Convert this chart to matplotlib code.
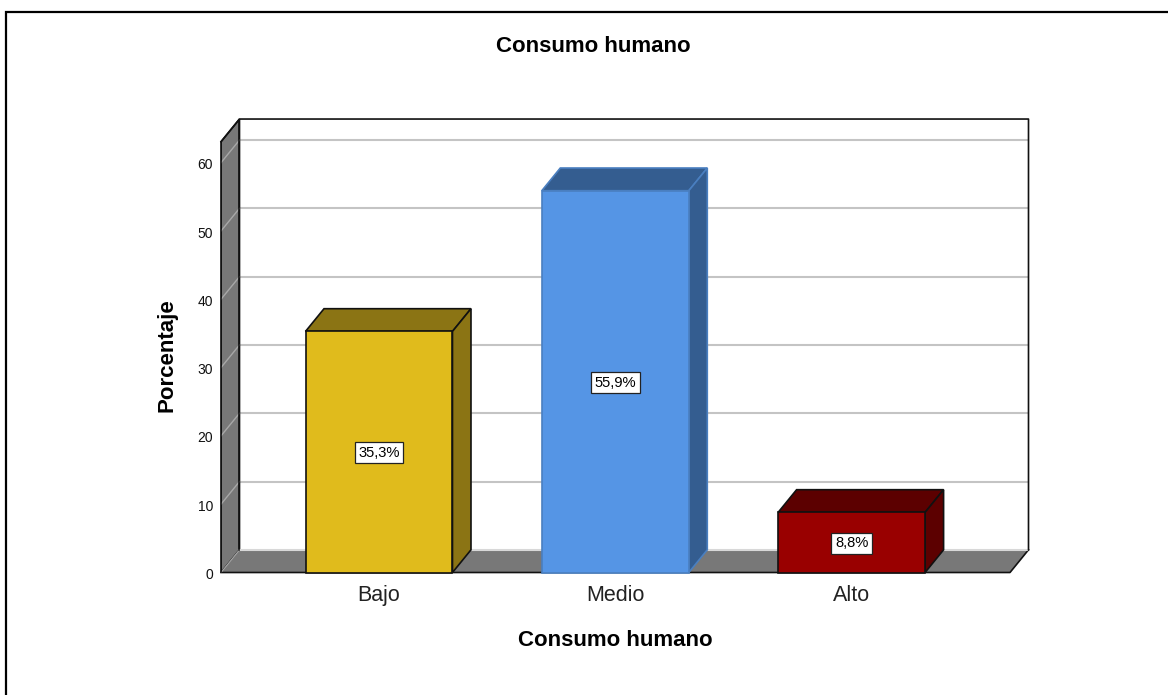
import matplotlib.pyplot as plt
from matplotlib.patches import Polygon, Rectangle
from matplotlib.lines import Line2D

plt.rcParams['font.family'] = ['Liberation Sans', 'DejaVu Sans']

categories = ['Bajo', 'Medio', 'Alto']
percentages = [35.3, 55.9, 8.8]
labels = ['35,3%', '55,9%', '8,8%']
front_colors = ['#e0bb1c', '#5595e5', '#990000']
side_colors = ['#8b7414', '#345d90', '#5c0000']
edge_colors = ['#111111', '#4a7fc0', '#111111']
y_ticks = [0, 10, 20, 30, 40, 50, 60]

W, H = 1168, 695
fig = plt.figure(figsize=(W / 100, H / 100), dpi=100)

# plot area in pixels: front floor corner to back top corner
left, right, bottom, top = 221, 1028, 572.5, 119
ax = fig.add_axes([left / W, 1 - bottom / H, (right - left) / W, (bottom - top) / H])

px_x = 236.3          # pixels per category
px_y = 6.83           # pixels per percent
ax.set_xlim((left - 379) / px_x, (right - 379) / px_x)
ax.set_ylim(0, (bottom - top) / px_y)
ax.axis('off')

dx = 18.5 / px_x      # depth of the 3d box
dy = 22.7 / px_y
bar_w = 0.622
x0 = (left - 379) / px_x
x1 = (1010 - 379) / px_x
y_top = 63.07


def poly(pts, fc, ec='#111111', lw=1.2, z=2):
    ax.add_patch(Polygon(pts, closed=True, fc=fc, ec=ec, lw=lw, zorder=z, clip_on=False, joinstyle='miter'))


# walls
ax.add_patch(Rectangle((x0 + dx, dy), x1 - x0, y_top, fc='white', ec='none', zorder=1))
poly([(x0, 0), (x0 + dx, dy), (x0 + dx, y_top + dy), (x0, y_top)], '#787878', z=2)
poly([(x0, 0), (x0 + dx, dy), (x1 + dx, dy), (x1, 0)], '#787878', ec='none', z=2)
ax.plot([x0, x1, x1 + dx], [0, 0, dy], color='#111111', lw=1.2, zorder=3, clip_on=False)
ax.plot([x0, x0 + dx], [0, dy], color='#a8a8a8', lw=0.8, zorder=3)

# gridlines on the back wall and their continuation on the side wall
for t in y_ticks[1:]:
    ax.plot([x0 + dx, x1 + dx], [t + dy, t + dy], color='#c4c4c4', lw=1.5, zorder=1.5)
    ax.plot([x0, x0 + dx], [t, t + dy], color='#a8a8a8', lw=1, zorder=3)
ax.plot([x0 + dx, x1 + dx], [dy, dy], color='#d8d8d8', lw=1.5, zorder=3)

# back frame
ax.plot([x0, x0 + dx, x1 + dx, x1 + dx], [y_top, y_top + dy, y_top + dy, dy],
        color='#111111', lw=1.2, zorder=3, clip_on=False)
ax.plot([x0 + dx, x0 + dx], [dy, y_top + dy], color='#111111', lw=1.2, zorder=3)
ax.plot([x0, x0], [0, y_top], color='#111111', lw=1.2, zorder=3)

# 3d bars
for i, v in enumerate(percentages):
    a, b = i - bar_w / 2, i + bar_w / 2
    ec = edge_colors[i]
    poly([(a, v), (a + dx, v + dy), (b + dx, v + dy), (b, v)], side_colors[i], ec=ec, z=4)
    poly([(b, 0), (b + dx, dy), (b + dx, v + dy), (b, v)], side_colors[i], ec=ec, z=4)
    poly([(a, 0), (b, 0), (b, v), (a, v)], front_colors[i], ec=ec, z=5)
    ax.text(i, v / 2 - 1 / px_y, labels[i], ha='center', va='center', fontsize=10.6, color='black', zorder=6,
            bbox=dict(boxstyle='square,pad=0.24', fc='white', ec='#222222', lw=0.9))

# tick labels
for t in y_ticks:
    ax.text(x0 - 8 / px_x, t - 2.5 / px_y, str(t), ha='right', va='center', fontsize=10, color='#111111')
for i, c in enumerate(categories):
    ax.text(i, -23 / px_y, c, ha='center', va='center', fontsize=15.5, color='#222222')

fig.text(593 / W, 1 - 46 / H, 'Consumo humano', ha='center', va='center', fontsize=16, fontweight='bold')
fig.text(615 / W, 1 - 641 / H, 'Consumo humano', ha='center', va='center', fontsize=16, fontweight='bold')
fig.text(167 / W, 1 - 355 / H, 'Porcentaje', ha='center', va='center', rotation=90, fontsize=16, fontweight='bold')

# frame: only the top and left edges fall inside the image
fig.add_artist(Line2D([6 / W, 6 / W, 1], [0, 1 - 11.5 / H, 1 - 11.5 / H], transform=fig.transFigure,
                      color='black', lw=1.6, solid_joinstyle='miter'))

fig.savefig('out.png', dpi=100)
